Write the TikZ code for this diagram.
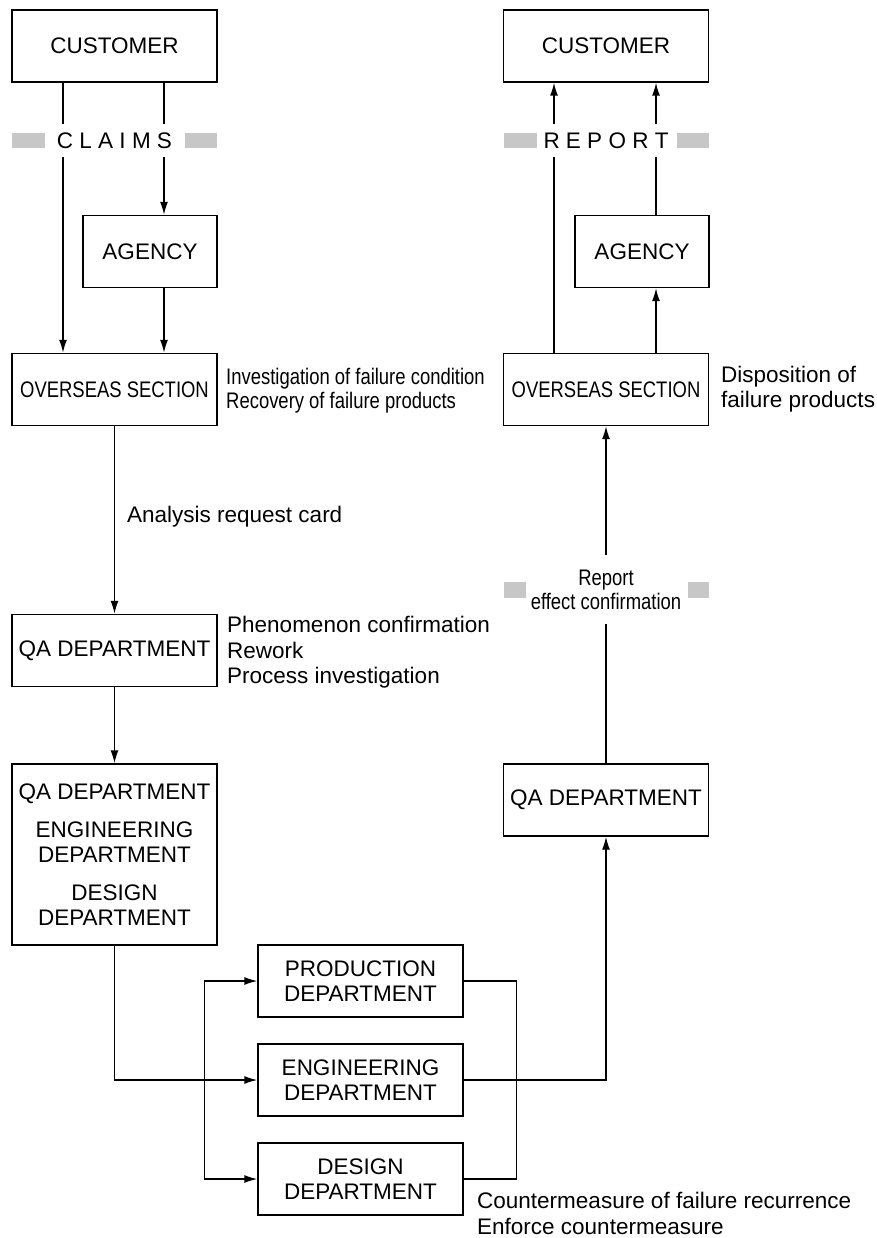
\documentclass[tikz,border=0pt]{standalone}
\usepackage{fontspec}
\setmainfont{Liberation Sans}
\newfontfamily\narrowsf[FakeStretch=0.82]{Liberation Sans}
\usetikzlibrary{arrows.meta, positioning}
\definecolor{bargray}{gray}{0.78}
\tikzset{
  box/.style={draw, line width=1.4pt, align=center, inner sep=2pt, minimum width=205pt, minimum height=72pt, font=\fontsize{22.5}{25}\selectfont},
  smallbox/.style={box, minimum width=134pt},
  note/.style={align=left, inner sep=0pt, anchor=west, font=\fontsize{22.5}{25}\selectfont},
  bar/.style={fill=bargray, inner sep=0pt, minimum width=33pt, minimum height=15pt},
  gap/.style={fill=white, inner xsep=1pt, inner ysep=0pt, minimum height=33pt, font=\fontsize{22.5}{25}\selectfont},
  tip/.tip={Latex[length=13pt,width=8pt]},
  flow/.style={line width=1.4pt, -tip},
  wire/.style={line width=1.4pt},
}

\begin{document}
\begin{tikzpicture}[x=1pt, y=-1pt]
    \useasboundingbox (0,0) rectangle (877,1238);
    \node[box] (custL) at (114.5,46) {CUSTOMER};
    \node[smallbox] (agL) at (150,251.5) {AGENCY};
    \node[box] (ovL) at (114.5,389.5) {\narrowsf OVERSEAS SECTION};
    \node[box] (qaL) at (114.5,650.5) {QA DEPARTMENT};
    \node[box, minimum height=181pt] (teamL) at (114.5,854.5) {QA DEPARTMENT\\[13pt]ENGINEERING\\DEPARTMENT\\[13pt]DESIGN\\DEPARTMENT};
    \node[box] (prod) at (360.5,981) {PRODUCTION\\DEPARTMENT};
    \node[box] (eng) at (360.5,1080) {ENGINEERING\\DEPARTMENT};
    \node[box] (des) at (360.5,1179) {DESIGN\\DEPARTMENT};
    \node[box] (custR) at (606,46) {CUSTOMER};
    \node[smallbox] (agR) at (642,251.5) {AGENCY};
    \node[box] (ovR) at (606,389.5) {\narrowsf OVERSEAS SECTION};
    \node[box] (qaR) at (606,800) {QA DEPARTMENT};

    \node[note, font=\narrowsf\fontsize{22.5}{24}\selectfont] (ovLnote) at (226,391) {Investigation of failure condition\\Recovery of failure products};
    \node[note] (reqnote) at (127,517) {Analysis request card};
    \node[note, font=\fontsize{22.5}{25.5}\selectfont] (qaLnote) at (227,652.5) {Phenomenon confirmation\\Rework\\Process investigation};
    \node[note] (ovRnote) at (721,389.5) {Disposition of\\failure products};
    \node[note, font=\fontsize{22.5}{26}\selectfont] (desnote) at (477,1213) {Countermeasure of failure recurrence\\Enforce countermeasure};

    \draw[flow] ([xshift=-51.5pt]custL.south) -- ([xshift=-51.5pt]ovL.north);
    \draw[flow] ([xshift=14pt]agL.north |- custL.south) -- ([xshift=14pt]agL.north);
    \draw[flow] ([xshift=14pt]agL.south) -- ([xshift=14pt]agL.south |- ovL.north);
    \draw[flow] (ovL) -- (qaL);
    \draw[flow] (qaL) -- (teamL);
    \draw[flow] (teamL.south) |- (eng.west);
    \draw[wire, tip-tip] (prod.west) -| ([xshift=-53pt]prod.west) |- (des.west);
    \draw[wire] (prod.east) -| ([xshift=53pt]prod.east) |- (des.east);
    \draw[flow] (eng.east) -| (qaR.south);
    \draw[flow] (qaR) -- (ovR);
    \draw[flow] ([xshift=-52pt]ovR.north) -- ([xshift=-52pt]ovR.north |- custR.south);
    \draw[flow] ([xshift=14pt]agR.north |- ovR.north) -- ([xshift=14pt]agR.south);
    \draw[flow] ([xshift=14pt]agR.north) -- ([xshift=14pt]agR.north |- custR.south);

    \node[gap] (claims) at (114.5,140.5) {C L A I M S};
    \node[bar] (claimsbarL) at (28.5,140.5) {};
    \node[bar, minimum width=32pt] (claimsbarR) at (201,140.5) {};
    \node[gap] (report) at (606,140.5) {R E P O R T};
    \node[bar] (reportbarL) at (520.5,140.5) {};
    \node[bar, minimum width=32pt] (reportbarR) at (693,140.5) {};
    \node[gap, minimum height=69pt, font=\narrowsf\fontsize{22.5}{24}\selectfont, align=center] (effect) at (606,589.5) {Report\\effect confirmation};
    \node[bar, minimum width=22pt, minimum height=16pt] (effectbarL) at (515,590) {};
    \node[bar, minimum width=21pt, minimum height=16pt] (effectbarR) at (698.5,590) {};
\end{tikzpicture}
\end{document}
